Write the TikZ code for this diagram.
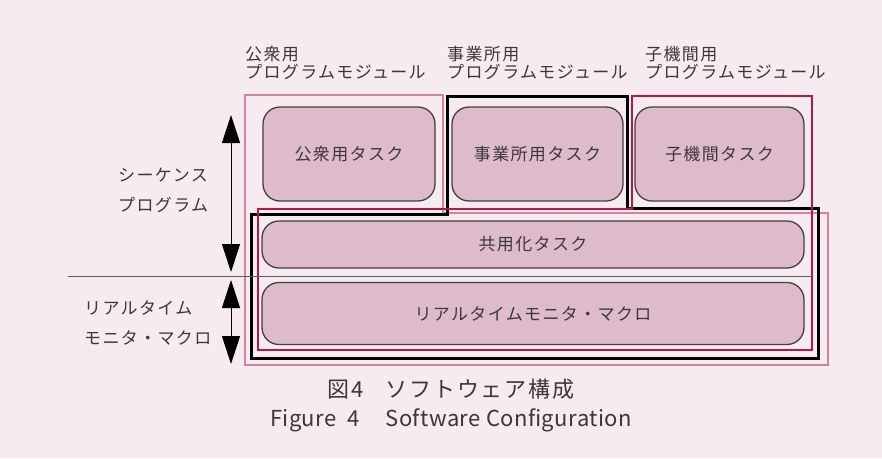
\documentclass[tikz,border=0pt]{standalone}
\usepackage{fontspec}
\setmainfont{Noto Sans CJK JP}[LetterSpace=8]
\newfontfamily\enfont{Noto Sans CJK JP}[LetterSpace=2]
\usetikzlibrary{arrows.meta}
\definecolor{bg}{RGB}{246,235,240}
\definecolor{boxfill}{RGB}{221,187,203}
\definecolor{pinkline}{RGB}{214,128,164}
\definecolor{crimson}{RGB}{178,24,72}
\definecolor{txt}{RGB}{60,55,58}
\definecolor{edge}{RGB}{70,62,66}
\tikzset{
  task/.style={draw=edge, line width=1.3pt, fill=boxfill, rounded corners=17pt,
    font=\fontsize{17}{20}\selectfont, text=txt, inner sep=0pt},
  lbl/.style={font=\fontsize{17}{18.5}\selectfont, text=txt, inner sep=0pt, align=left},
  sidelbl/.style={font=\fontsize{17}{30}\selectfont, text=txt, inner sep=0pt, align=left},
  dimarrow/.style={line width=1pt, {Triangle[width=18pt,length=28pt]}-{Triangle[width=18pt,length=28pt]}},
  pinkmod/.style={draw=pinkline, line width=2.4pt},
  blackmod/.style={draw=black, line width=3pt},
  redmod/.style={draw=crimson, line width=2.6pt},
}
\begin{document}
\begin{tikzpicture}[x=1pt,y=-1pt]
\fill[bg] (0,0) rectangle (882,458);
\useasboundingbox (0,0) rectangle (882,458);

% module outlines
\draw[pinkmod] (245,95) -- (443,95) -- (443,213) -- (828,213) -- (828,365) -- (245,365) -- cycle;
\draw[blackmod] (447,96) -- (627,96) -- (627,208) -- (818,208) -- (818,358) -- (251,358) -- (251,214) -- (447,214) -- cycle;
\draw[redmod] (632,96) -- (812,96) -- (812,350) -- (258,350) -- (258,209) -- (632,209) -- cycle;

% boundary line
\coordinate (sepL) at (68,276);
\coordinate (sepR) at (812,276);
\draw[line width=0.9pt, draw={rgb,255:red,95;green,90;blue,93}] (sepL) -- (sepR);

% tasks
\node[task, minimum width=172pt, minimum height=94pt] (t1) at (349,154) {公衆用タスク};
\node[task, minimum width=171pt, minimum height=94pt] (t2) at (537.5,154) {事業所用タスク};
\node[task, minimum width=169pt, minimum height=94pt] (t3) at (719.5,154) {子機間タスク};
\node[task, minimum width=542pt, minimum height=47pt] (shared) at (533,244.5) {共用化タスク};
\node[task, minimum width=542pt, minimum height=62pt] (rt) at (533,313.5) {リアルタイムモニタ・マクロ};

% module labels
\node[lbl, anchor=north west] (m1) at (245,46) {公衆用\\プログラムモジュール};
\node[lbl, anchor=north west] (m2) at (447,46) {事業所用\\プログラムモジュール};
\node[lbl, anchor=north west] (m3) at (645,46) {子機間用\\プログラムモジュール};

% side labels
\node[sidelbl, anchor=west] (seq) at (118,190) {シーケンス\\プログラム};
\node[sidelbl, anchor=west] (rtm) at (84,323) {リアルタイム\\モニタ・マクロ};

% dimension arrows
\coordinate (a1) at (231,115);
\coordinate (a2) at (231,272);
\coordinate (b1) at (231,280);
\coordinate (b2) at (231,364);
\draw[dimarrow] (a1) -- (a2);
\draw[dimarrow] (b1) -- (b2);

% caption
\node[font=\fontsize{22}{24}\selectfont, text=txt, inner sep=0pt] (capjp) at (451,389) {図4\hspace{22pt}ソフトウェア構成};
\node[font=\enfont\fontsize{22}{24}\selectfont, text=txt, inner sep=0pt] (capen) at (451,420) {Figure\ \ 4\hspace{26pt}Software Configuration};
\end{tikzpicture}
\end{document}
